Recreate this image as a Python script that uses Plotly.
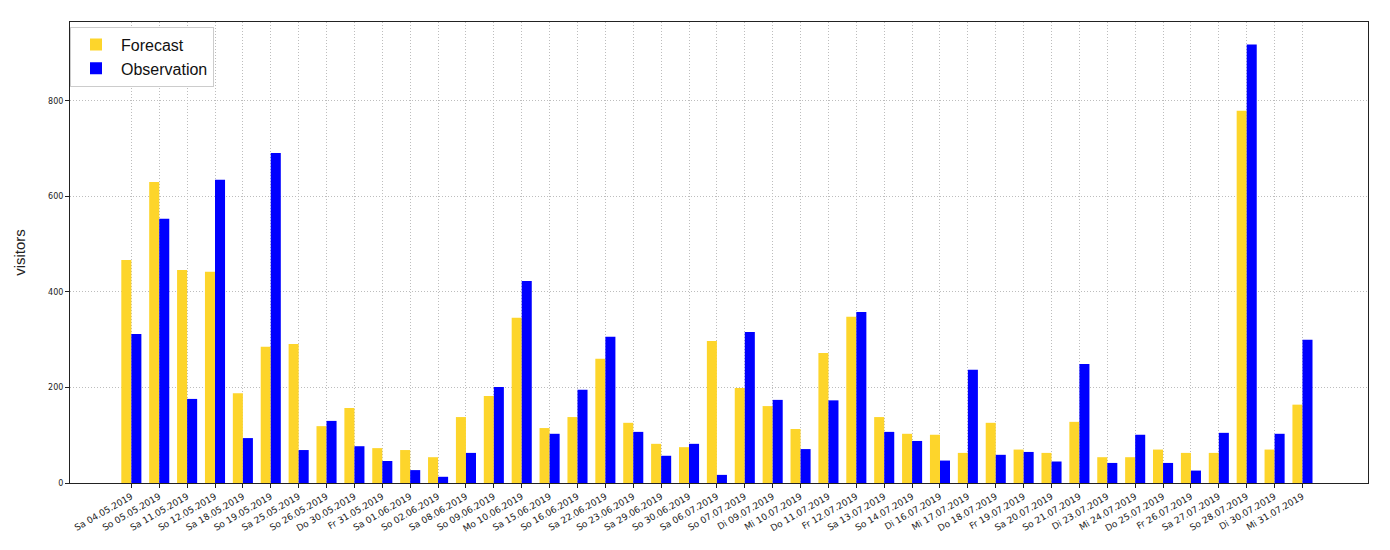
import plotly.graph_objects as go

dates = ["Sa 04.05.2019", "So 05.05.2019", "Sa 11.05.2019", "So 12.05.2019", "Sa 18.05.2019",
         "So 19.05.2019", "Sa 25.05.2019", "So 26.05.2019", "Do 30.05.2019", "Fr 31.05.2019",
         "Sa 01.06.2019", "So 02.06.2019", "Sa 08.06.2019", "So 09.06.2019", "Mo 10.06.2019",
         "Sa 15.06.2019", "So 16.06.2019", "Sa 22.06.2019", "So 23.06.2019", "Sa 29.06.2019",
         "So 30.06.2019", "Sa 06.07.2019", "So 07.07.2019", "Di 09.07.2019", "Mi 10.07.2019",
         "Do 11.07.2019", "Fr 12.07.2019", "Sa 13.07.2019", "So 14.07.2019", "Di 16.07.2019",
         "Mi 17.07.2019", "Do 18.07.2019", "Fr 19.07.2019", "Sa 20.07.2019", "So 21.07.2019",
         "Di 23.07.2019", "Mi 24.07.2019", "Do 25.07.2019", "Fr 26.07.2019", "Sa 27.07.2019",
         "So 28.07.2019", "Di 30.07.2019", "Mi 31.07.2019"]

forecast = [467, 630, 446, 442, 188, 285, 291, 119, 157, 73,
            69, 54, 138, 182, 346, 115, 138, 260, 126, 82,
            75, 297, 199, 161, 113, 272, 348, 138, 103, 101,
            63, 126, 70, 63, 128, 54, 54, 70, 63, 63,
            779, 70, 164]

observation = [312, 553, 176, 635, 94, 691, 69, 130, 77, 46,
               27, 13, 63, 201, 423, 103, 195, 306, 107, 57,
               82, 17, 316, 174, 71, 173, 358, 107, 88, 47,
               237, 59, 65, 45, 249, 42, 101, 42, 26, 105,
               918, 103, 300]

idx = list(range(len(dates)))
bw = 0.36

fig = go.Figure()
fig.add_trace(go.Bar(x=idx, y=forecast, name="Forecast", marker_color="#FDD52B",
                     marker_line_width=0, width=bw, offset=-bw))
fig.add_trace(go.Bar(x=idx, y=observation, name="Observation", marker_color="#0000FF",
                     marker_line_width=0, width=bw, offset=0))

fig.update_layout(
    width=1382, height=542,
    margin=dict(l=57, r=22, t=14, b=67),
    plot_bgcolor="white", paper_bgcolor="white",
    font=dict(family="DejaVu Sans", color="#222"),
    barmode="overlay",
    showlegend=True,
    legend=dict(x=0.0, y=0.99, xanchor="left", yanchor="top",
                bordercolor="#cccccc", borderwidth=1, bgcolor="white",
                font=dict(size=16, family="Liberation Sans", color="#111"),
                itemwidth=40, tracegroupgap=0),
    xaxis=dict(
        tickmode="array", tickvals=idx, ticktext=dates, tickangle=-30,
        tickfont=dict(size=9), range=[-2.2, 44.35],
        showgrid=True, gridcolor="#bdbdbd", griddash="1px,2px", gridwidth=1,
        ticks="outside", ticklen=4, tickcolor="#222",
        showline=True, linecolor="#222", linewidth=1, mirror=True, zeroline=False,
    ),
    yaxis=dict(
        range=[0, 965], tickvals=[0, 200, 400, 600, 800], tickfont=dict(size=8),
        title=dict(text="visitors", font=dict(size=15, family="Liberation Sans"), standoff=18),
        showgrid=True, gridcolor="#bdbdbd", griddash="1px,2px", gridwidth=1,
        ticks="outside", ticklen=4, tickcolor="#222",
        showline=True, linecolor="#222", linewidth=1, mirror=True, zeroline=False,
    ),
)

fig.write_html("out.html")
